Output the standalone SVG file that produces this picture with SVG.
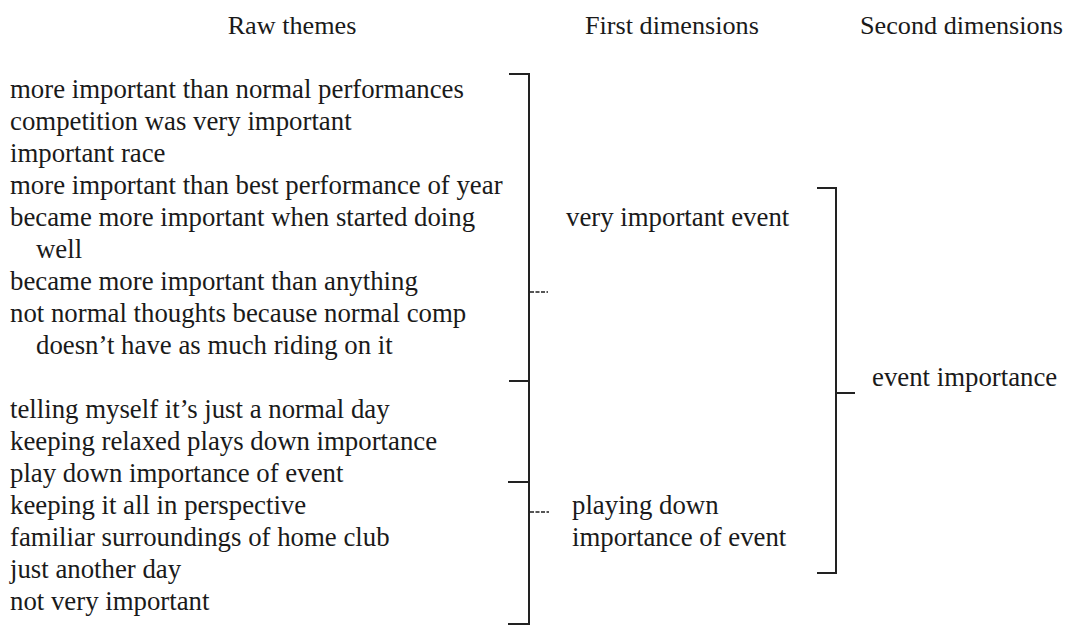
<svg xmlns="http://www.w3.org/2000/svg" width="1076" height="628" viewBox="0 0 1076 628">
  <style>
    text { font-family: "Liberation Serif", "Times New Roman", serif; font-size: 26.8px; fill: #1a1a1a; }
    .head { font-size: 26.2px; }
    .br { fill: none; stroke: #222; stroke-width: 2; }
    .tick { stroke: #555; stroke-width: 2; stroke-dasharray: 4 1.5; }
  </style>
  <rect width="1076" height="628" fill="#ffffff"/>

  <!-- column headings -->
  <g id="headings">
    <text class="head" x="292" y="34" text-anchor="middle">Raw themes</text>
    <text class="head" x="585" y="34">First dimensions</text>
    <text class="head" x="860" y="34">Second dimensions</text>
  </g>

  <!-- raw themes, first group -->
  <g id="raw-important">
    <text x="10" y="98">more important than normal performances</text>
    <text x="10" y="130">competition was very important</text>
    <text x="10" y="162">important race</text>
    <text x="10" y="194">more important than best performance of year</text>
    <text x="10" y="226">became more important when started doing</text>
    <text x="36" y="258">well</text>
    <text x="10" y="290">became more important than anything</text>
    <text x="10" y="322">not normal thoughts because normal comp</text>
    <text x="36" y="354">doesn’t have as much riding on it</text>
  </g>

  <!-- raw themes, second group -->
  <g id="raw-playing-down">
    <text x="10" y="418">telling myself it’s just a normal day</text>
    <text x="10" y="450">keeping relaxed plays down importance</text>
    <text x="10" y="482">play down importance of event</text>
    <text x="10" y="514">keeping it all in perspective</text>
    <text x="10" y="546">familiar surroundings of home club</text>
    <text x="10" y="578">just another day</text>
    <text x="10" y="610">not very important</text>
  </g>

  <!-- first dimensions -->
  <g id="dim-very-important">
    <text x="566" y="226">very important event</text>
  </g>
  <g id="dim-playing-down">
    <text x="572" y="514">playing down</text>
    <text x="572" y="546">importance of event</text>
  </g>

  <!-- second dimension -->
  <g id="dim-event-importance">
    <text x="872" y="386">event importance</text>
  </g>

  <!-- brackets -->
  <g id="connectors">
    <path class="br" d="M509 74 H529 V624 H508"/>
    <path class="br" d="M509 381 H529"/>
    <path class="br" d="M508 482 H529"/>
    <path class="tick" d="M530 292 H548"/>
    <path class="tick" d="M530 512 H549"/>
    <path class="br" d="M817 188 H836 V573 H817"/>
    <path class="br" d="M836 393 H855"/>
  </g>
</svg>
